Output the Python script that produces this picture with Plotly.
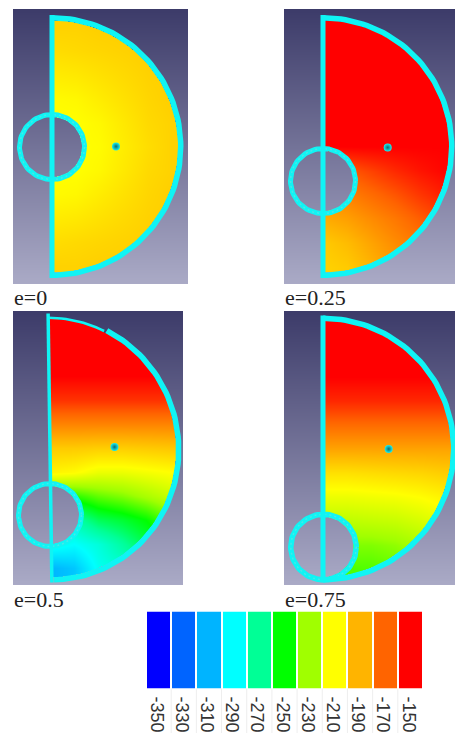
import numpy as np
import plotly.graph_objects as go

# colour legend
legend_ticks = [-350, -330, -310, -290, -270, -250, -230, -210, -190, -170, -150]
legend_colors = ["#0000ff", "#0064ff", "#00b4ff", "#00ffff", "#00ff96", "#00ff00",
                 "#a0ff00", "#ffff00", "#ffb400", "#ff6400", "#ff0000"]

# sample grid of the fields (px right of the flat side, px below the centre)
grid_dx = [0, 24, 48, 72, 96, 120]
grid_dy = [-120, -96, -72, -48, -24, 0, 24, 48, 72, 96, 120]

field_e0 = [
    [-198, -198, -197, -197, -197, -197],
    [-201, -200, -199, -198, -197, -197],
    [-205, -204, -202, -200, -198, -197],
    [-209, -208, -205, -202, -199, -197],
    [-210, -210, -208, -204, -200, -198],
    [-210, -210, -209, -205, -201, -198],
    [-210, -210, -208, -204, -200, -198],
    [-209, -208, -205, -202, -199, -197],
    [-205, -204, -202, -200, -198, -197],
    [-201, -200, -199, -198, -197, -197],
    [-198, -198, -197, -197, -197, -197],
]
field_e25 = [
    [-150, -150, -150, -150, -150, -150],
    [-150, -150, -150, -150, -150, -150],
    [-150, -150, -150, -150, -150, -150],
    [-150, -150, -150, -150, -150, -150],
    [-150, -150, -150, -150, -150, -150],
    [-150, -150, -150, -150, -150, -150],
    [-170, -168, -163, -158, -154, -151],
    [-180, -177, -172, -167, -161, -156],
    [-188, -185, -180, -175, -169, -163],
    [-196, -192, -186, -180, -175, -170],
    [-198, -196, -190, -184, -178, -172],
]
field_e50 = [
    [-150, -150, -150, -150, -150, -150],
    [-150, -150, -150, -150, -150, -150],
    [-150, -150, -150, -150, -150, -150],
    [-160, -160, -160, -160, -160, -160],
    [-178, -178, -178, -178, -178, -178],
    [-196, -196, -197, -197, -196, -195],
    [-207, -209, -214, -214, -212, -210],
    [-245, -245, -238, -234, -228, -222],
    [-275, -275, -262, -257, -250, -238],
    [-285, -290, -283, -272, -260, -245],
    [-310, -305, -288, -282, -270, -255],
]
field_e75 = [
    [-150, -150, -150, -150, -150, -150],
    [-150, -150, -150, -150, -150, -150],
    [-150, -150, -150, -150, -150, -150],
    [-158, -158, -158, -158, -158, -158],
    [-172, -172, -172, -172, -172, -172],
    [-186, -186, -186, -186, -186, -186],
    [-202, -202, -201, -200, -199, -197],
    [-214, -214, -213, -212, -210, -207],
    [-224, -224, -223, -222, -219, -215],
    [-234, -234, -234, -232, -228, -222],
    [-240, -240, -240, -238, -234, -230],
]

captions = ["e=0", "e=0.25", "e=0.5", "e=0.75"]
fields = [field_e0, field_e25, field_e50, field_e75]

# page pixels: panel box, half disc, hole
panels = [
    dict(box=(13, 188, 9, 284), c=(52, 146.5), r=(126, 126), band=5.5, side=5, tilt=0, hole=(52, 147, 35, 30),
         dot=(116, 146.5), cap=(13, 297)),
    dict(box=(284, 455, 9, 284), c=(323, 146.5), r=(126, 126), band=5.5, side=5, tilt=0, hole=(323, 181, 35, 30),
         dot=(387.7, 147.5), cap=(284, 297)),
    dict(box=(13, 183, 311, 585), c=(50, 448), r=(126, 129), band=5.5, side=3.5, tilt=0.014, hole=(50, 515, 34, 29),
         dot=(114.5, 447), cap=(13, 599), thin_to=-63),
    dict(box=(284, 455, 311, 585), c=(323, 449), r=(128, 128), band=5.5, side=5, tilt=0, hole=(323.5, 547, 35.5, 30),
         dot=(388.7, 449), cap=(284, 599)),
]

CYAN = "#10f4f4"
scale = [[i / 10, c] for i, c in enumerate(legend_colors)]


def outline(fig, x, y, width, color=CYAN, dash=None):
    fig.add_trace(go.Scatter(
        x=x, y=y, mode="lines", line=dict(color=color, width=width, dash=dash),
        hoverinfo="skip", showlegend=False,
    ))


fig = go.Figure()

for p, field, caption in zip(panels, fields, captions):
    cx, cy = p["c"]
    rx, ry = p["r"]
    hx, hy, hr_out, hr_in = p["hole"]
    x0, x1, y0, y1 = p["box"]
    band = p["band"]
    tilt = p["tilt"]

    fig.add_trace(go.Heatmap(
        x=[cx + d for d in grid_dx], y=[cy + d for d in grid_dy], z=field,
        colorscale=scale, zmin=-350, zmax=-150, zsmooth="best",
        showscale=False, hoverinfo="skip",
    ))

    # background gradient on top of the field, with the disc cut out of it
    xs = np.arange(x0, x1) + 0.5
    ys = np.arange(y0, y1) + 0.5
    X, Y = np.meshgrid(xs, ys)
    left = cx + (Y - cy) * tilt
    inside = (X >= left) & (((X - left) / rx) ** 2 + ((Y - cy) / ry) ** 2 <= 1)
    inside &= (X - hx) ** 2 + (Y - hy) ** 2 > hr_in ** 2
    back = np.where(inside, np.nan, Y)
    fig.add_trace(go.Heatmap(
        x=xs, y=ys, z=back,
        colorscale=[[0, "#3c3b69"], [1, "#aaaac6"]], zmin=y0, zmax=y1,
        showscale=False, hoverinfo="skip",
    ))

    # hole ring, with the speckled look it has in the screenshot
    a = np.radians(np.arange(0, 362, 4))
    ring_r = (hr_out + hr_in) / 2
    ring_x = hx + ring_r * np.cos(a)
    ring_y = hy + ring_r * np.sin(a)
    outline(fig, ring_x, ring_y, hr_out - hr_in)
    outline(fig, ring_x, ring_y, 1.5, color="#48e8e8", dash="2px,3px")

    # flat side and outer arc
    thin_to = p.get("thin_to", -90)
    if thin_to > -90:
        t = np.radians(np.arange(-90, thin_to + 1, 2))
        outline(fig, cx + (rx + 1.2) * np.cos(t) + (ry + 1.2) * np.sin(t) * tilt, cy + (ry + 1.2) * np.sin(t), 2.6)
    t = np.radians(np.arange(thin_to, 91, 2))
    arc_x = cx + (rx + band / 2) * np.cos(t) + (ry + band / 2) * np.sin(t) * tilt
    arc_y = cy + (ry + band / 2) * np.sin(t)
    outline(fig, arc_x, arc_y, band)
    top = ry + band
    outline(fig, [cx - top * tilt, cx + top * tilt], [cy - top, cy + top], p["side"])

    fig.add_trace(go.Scatter(
        x=[p["dot"][0]], y=[p["dot"][1]], mode="markers",
        marker=dict(size=8, color="#18f0f0", line_width=0,
                    gradient=dict(type="radial", color="#0a6a74")),
        hoverinfo="skip", showlegend=False,
    ))
    fig.add_annotation(
        x=p["cap"][0], y=p["cap"][1], text=caption, showarrow=False, xanchor="left", yanchor="middle",
        xshift=-1, font=dict(family="Liberation Serif", size=22, color="#222222"),
    )

# colour legend on its own axes
fig.add_trace(go.Heatmap(
    x=legend_ticks, y=[0], z=[list(range(11))], xaxis="x2", yaxis="y2", xgap=2,
    colorscale=scale, zmin=0, zmax=10, showscale=False, hoverinfo="skip",
))

# faint separators under the legend cells
for v in legend_ticks[:-1]:
    fig.add_shape(type="line", xref="x2", yref="paper", x0=v + 10, x1=v + 10, y0=0, y1=1 - 688.5 / 733,
                  line=dict(color="#eeeeee", width=1))

fig.update_layout(
    width=455, height=733, margin=dict(l=0, r=0, t=0, b=0),
    paper_bgcolor="white", plot_bgcolor="white", showlegend=False,
    xaxis=dict(range=[0, 455], domain=[0, 1], visible=False, fixedrange=True),
    yaxis=dict(range=[733, 0], domain=[0, 1], visible=False, fixedrange=True),
    xaxis2=dict(
        domain=[146 / 455, 423 / 455], range=[-360, -140], anchor="y2", showgrid=False,
        tickvals=legend_ticks, ticktext=[str(v) for v in legend_ticks], tickangle=90, ticks="",
        ticklabelstandoff=7, ticklabelshift=-2,
        tickfont=dict(family="Liberation Sans", size=18, color="#333333"), zeroline=False,
    ),
    yaxis2=dict(domain=[1 - 688.5 / 733, 1 - 611.5 / 733], anchor="x2", visible=False),
)

# the page's default body margin would push the whole plot 8px in
fig.write_html("out.html", config={"displayModeBar": False}, post_script="document.body.style.margin='0';")
